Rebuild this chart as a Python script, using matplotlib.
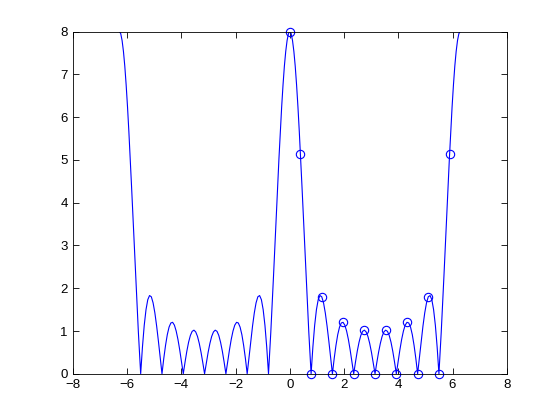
import matplotlib
matplotlib.use('Agg')
import matplotlib.pyplot as plt
import numpy as np

# Magnitude curve, positive half (the plot is symmetric about 0)
w_pos = [0.0, 0.05, 0.1, 0.15, 0.2, 0.25, 0.3, 0.35, 0.4, 0.45, 0.5, 0.55,
         0.6, 0.65, 0.7, 0.75, 0.785,
         0.851, 0.916, 0.982, 1.047, 1.113, 1.178, 1.244, 1.309, 1.374, 1.440, 1.505, 1.571,
         1.636, 1.702, 1.767, 1.833, 1.898, 1.963, 2.029, 2.094, 2.160, 2.225, 2.291, 2.356,
         2.422, 2.487, 2.553, 2.618, 2.683, 2.749, 2.814, 2.880, 2.945, 3.011, 3.076, 3.142,
         3.207, 3.272, 3.338, 3.403, 3.469, 3.534, 3.600, 3.665, 3.731, 3.796, 3.861, 3.927,
         3.992, 4.058, 4.123, 4.189, 4.254, 4.320, 4.385, 4.451, 4.516, 4.581, 4.647, 4.712,
         4.778, 4.843, 4.909, 4.974, 5.040, 5.105, 5.171, 5.236, 5.301, 5.367, 5.432, 5.498,
         5.533, 5.583, 5.633, 5.683, 5.733, 5.783, 5.833, 5.883, 5.933, 5.983,
         6.033, 6.083, 6.133, 6.183, 6.233, 6.283]
mag_pos = [8.0, 7.95, 7.79, 7.535, 7.19, 6.75, 6.24, 5.66, 5.03, 4.365, 3.68, 2.976,
           2.29, 1.614, 0.977, 0.385, 0.0,
           0.627, 1.130, 1.500, 1.732, 1.829, 1.800, 1.658, 1.422, 1.115, 0.758, 0.379, 0.0,
           0.355, 0.665, 0.915, 1.092, 1.188, 1.203, 1.137, 1.000, 0.802, 0.557, 0.284, 0.0,
           0.277, 0.528, 0.739, 0.897, 0.992, 1.020, 0.979, 0.874, 0.711, 0.501, 0.259, 0.0,
           0.259, 0.501, 0.711, 0.874, 0.979, 1.020, 0.992, 0.897, 0.739, 0.528, 0.277, 0.0,
           0.284, 0.557, 0.802, 1.000, 1.137, 1.203, 1.188, 1.092, 0.915, 0.665, 0.355, 0.0,
           0.379, 0.758, 1.115, 1.422, 1.658, 1.800, 1.829, 1.732, 1.500, 1.130, 0.627, 0.0,
           0.385, 0.977, 1.614, 2.29, 2.976, 3.68, 4.365, 5.03, 5.66, 6.24,
           6.75, 7.19, 7.535, 7.79, 7.95, 8.0]

# DFT samples (circles)
w_k = [0.0, 0.393, 0.785, 1.178, 1.571, 1.963, 2.356, 2.749,
       3.142, 3.534, 3.927, 4.320, 4.712, 5.105, 5.498, 5.890]
mag_k = [8.0, 5.13, 0.0, 1.80, 0.0, 1.20, 0.0, 1.02,
         0.0, 1.02, 0.0, 1.20, 0.0, 1.80, 0.0, 5.13]

w_pos = np.array(w_pos)
mag_pos = np.array(mag_pos)
w = np.concatenate([-w_pos[::-1], w_pos[1:]])
mag = np.concatenate([mag_pos[::-1], mag_pos[1:]])

plt.rcParams['font.family'] = ['Liberation Sans', 'DejaVu Sans']

fig = plt.figure(figsize=(5.6, 4.2), dpi=100)
ax = fig.add_axes([0.13, 0.11, 0.775, 0.815])
ax.plot(w, mag, color='blue', linewidth=0.8)
ax.plot(w_k, mag_k, 'o', color='blue', markerfacecolor='none',
        markersize=6, markeredgewidth=0.8, clip_on=False)

ax.set_xlim(-8, 8)
ax.set_ylim(0, 8)
ax.set_xticks(np.arange(-8, 9, 2))
ax.set_yticks(np.arange(0, 9, 1))
ax.tick_params(direction='in', top=True, right=True, labelsize=9.5,
               length=4, width=0.6)
for s in ax.spines.values():
    s.set_linewidth(0.6)

fig.savefig('out.png', dpi=100)
